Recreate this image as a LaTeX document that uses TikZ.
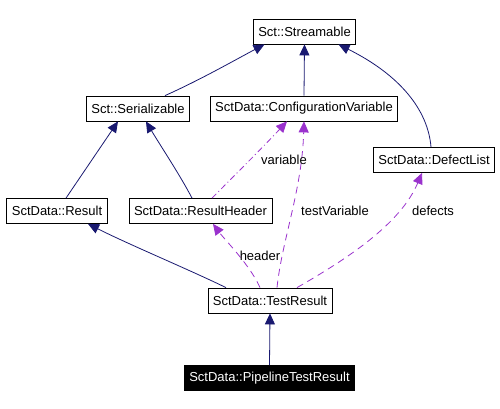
\documentclass[tikz,border=0pt]{standalone}
\usepackage{xcolor}
\usepackage{fontspec}
\setmainfont{Liberation Sans}
\usetikzlibrary{arrows.meta}

\definecolor{navy}{HTML}{191970}
\definecolor{orchid}{HTML}{9A32CD}

\begin{document}
\begin{tikzpicture}[x=1pt,y=-1pt,
		cls/.style={draw=black,line width=0.8pt,fill=white,minimum height=25pt,inner xsep=5pt,inner ysep=0pt,font=\fontsize{13}{15}\selectfont},
		cur/.style={cls,fill=black,text=white},
		inherit/.style={navy,line width=0.8pt,-{Triangle[length=11pt,width=10pt]}},
		uses/.style={orchid,line width=0.8pt,dash pattern=on 7pt off 5pt,-{Triangle[length=11pt,width=10pt]}},
		lbl/.style={inner sep=1pt,font=\fontsize{13}{15}\selectfont}]
		\useasboundingbox (0,0) rectangle (500,408);
		\node[cls] (stream) at (304.5,31.5) {Sct::Streamable};
		\node[cls] (serial) at (138,108.5) {Sct::Serializable};
		\node[cls] (conf) at (304,108.5) {SctData::ConfigurationVariable};
		\node[cls] (defect) at (434,160) {SctData::DefectList};
		\node[cls] (result) at (57,211) {SctData::Result};
		\node[cls] (resh) at (200.5,211) {SctData::ResultHeader};
		\node[cls] (test) at (270,300.5) {SctData::TestResult};
		\node[cur] (pipe) at (269.5,378) {SctData::PipelineTestResult};
		% inheritance
		\draw[inherit] ([xshift=27pt]serial.north) .. controls (200,80) and (235,60) .. ([xshift=-40pt]stream.south);
		\draw[inherit] (conf.north) -- (stream.south);
		\draw[inherit] ([xshift=-3pt]defect.north) .. controls (428,110) and (400,75) .. ([xshift=34pt]stream.south);
		\draw[inherit] ([xshift=9pt]result.north) -- ([xshift=-20pt]serial.south);
		\draw[inherit] ([xshift=-8.5pt]resh.north) .. controls (180,175) and (160,145) .. ([xshift=8pt]serial.south);
		\draw[inherit] ([xshift=-44pt]test.north) .. controls (190,270) and (130,245) .. ([xshift=31pt]result.south);
		\draw[inherit] (pipe.north) -- (test.south);
		% members
		\draw[uses,dash pattern=on 6pt off 3pt on 1pt off 3pt] ([xshift=11.5pt]resh.north) .. controls (235,175) and (265,145) .. ([xshift=-17pt]conf.south);
		\draw[uses] ([xshift=7pt]test.north) .. controls (282,240) and (302,190) .. (conf.south);
		\draw[uses] ([xshift=27pt]test.north) .. controls (345,260) and (400,225) .. ([xshift=-12pt]defect.south);
		\draw[uses] ([xshift=-10pt]test.north) .. controls (250,265) and (225,240) .. ([xshift=12.5pt]resh.south);
		% labels
		\node[lbl] (lvar) at (284,160) {variable};
		\node[lbl] (ltest) at (335,211) {testVariable};
		\node[lbl] (ldef) at (433,211) {defects};
		\node[lbl] (lhead) at (260,256) {header};
	\end{tikzpicture}
\end{document}
